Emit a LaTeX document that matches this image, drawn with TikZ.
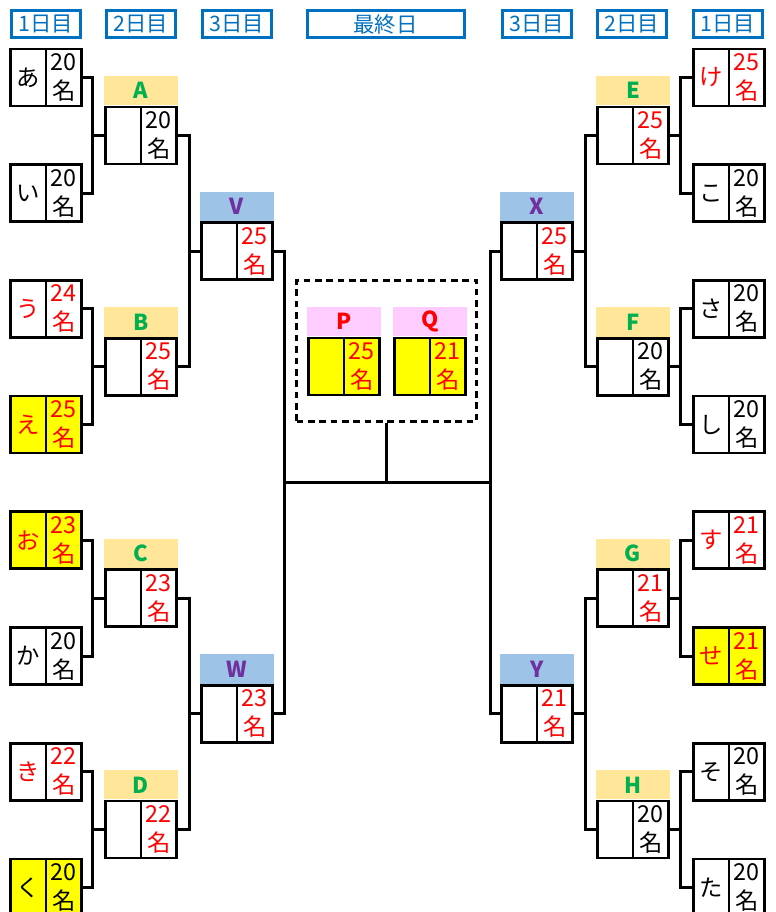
\documentclass[tikz,border=0pt]{standalone}
\usepackage{fontspec}
\setmainfont{Noto Sans CJK JP}
\usetikzlibrary{calc}

\definecolor{hdblue}{RGB}{0,112,192}
\definecolor{teamgold}{RGB}{255,230,153}
\definecolor{teamgreen}{RGB}{0,176,80}
\definecolor{semiblue}{RGB}{157,195,230}
\definecolor{semipurple}{RGB}{112,48,160}
\definecolor{finpink}{RGB}{255,204,255}
\definecolor{winred}{RGB}{255,0,0}
\definecolor{hiyellow}{RGB}{255,255,0}

\begin{document}
\begin{tikzpicture}[x=0.75pt,y=0.75pt,yscale=-1,xscale=1,
  cell/.style={draw, line width=2pt, minimum width=26.6pt, minimum height=42.75pt, inner sep=0pt, outer sep=0pt, fill=white, align=center, font=\fontsize{17.5}{21.75}\selectfont},
  win/.style={text=winred},
  hit/.style={fill=hiyellow},
  dayhd/.style={draw=hdblue, line width=2.25pt, text=hdblue, minimum width=51.75pt, minimum height=20.25pt, inner sep=0pt, font=\fontsize{16}{16}\selectfont},
  teamhd/.style={fill=teamgold, text=teamgreen, minimum width=55.5pt, minimum height=22pt, inner sep=0pt, anchor=south, font=\bfseries\fontsize{16.5}{17}\selectfont},
  semihd/.style={teamhd, fill=semiblue, text=semipurple},
  finhd/.style={teamhd, fill=finpink, text=winred},
  bracket/.style={line width=2.25pt},
  finbox/.style={draw, dash pattern=on 5pt off 3.5pt, line width=2pt, minimum width=135pt, minimum height=105.75pt}]
\useasboundingbox (0,0) rectangle (775,912);

% Day Headers
\node[dayhd] (hd-l1) at (45.7,24) {1日目};
\node[dayhd] (hd-l2) at (140.5,24) {2日目};
\node[dayhd] (hd-l3) at (236.5,24) {3日目};
\node[dayhd, minimum width=117.75pt] (hd-fin) at (385.5,24) {最終日};
\node[dayhd] (hd-r3) at (536.5,24) {3日目};
\node[dayhd] (hd-r2) at (632,24) {2日目};
\node[dayhd] (hd-r1) at (728,24) {1日目};

% Junction Points
\coordinate (jA) at (92,135.35);
\coordinate (jB) at (92,366.75);
\coordinate (jC) at (92,598.15);
\coordinate (jD) at (92,829.55);
\coordinate (jV) at (189,251.05);
\coordinate (jW) at (189,713.85);
\coordinate (jL) at (284,482);
\coordinate (jR) at (490,482);
\coordinate (jX) at (585,251.05);
\coordinate (jY) at (585,713.85);
\coordinate (jE) at (680,135.35);
\coordinate (jF) at (680,366.75);
\coordinate (jG) at (680,598.15);
\coordinate (jH) at (680,829.55);

% Final Box
\node[finbox] (fin) at (386.5,351) {};

%% Left Side
% 1st day
\node[cell] (d1-a) at (28.2,77.5) {あ};
\node[cell, anchor=west] (d1-a-n) at (d1-a.east) {20\\名};
\node[cell] (d1-i) at (28.2,193.2) {い};
\node[cell, anchor=west] (d1-i-n) at (d1-i.east) {20\\名};
\node[cell, win] (d1-u) at (28.2,308.9) {う};
\node[cell, win, anchor=west] (d1-u-n) at (d1-u.east) {24\\名};
\node[cell, win, hit] (d1-e) at (28.2,424.6) {え};
\node[cell, win, hit, anchor=west] (d1-e-n) at (d1-e.east) {25\\名};
\node[cell, win, hit] (d1-o) at (28.2,540.3) {お};
\node[cell, win, hit, anchor=west] (d1-o-n) at (d1-o.east) {23\\名};
\node[cell] (d1-ka) at (28.2,656) {か};
\node[cell, anchor=west] (d1-ka-n) at (d1-ka.east) {20\\名};
\node[cell, win] (d1-ki) at (28.2,771.7) {き};
\node[cell, win, anchor=west] (d1-ki-n) at (d1-ki.east) {22\\名};
\node[cell, hit] (d1-ku) at (28.2,887.4) {く};
\node[cell, hit, anchor=west] (d1-ku-n) at (d1-ku.east) {20\\名};

% 2nd day
\node[cell] (d2-A) at (123.2,135.35) {};
\node[cell, anchor=west] (d2-A-n) at (d2-A.east) {20\\名};
\node[teamhd] (d2-A-h) at ($(d2-A.north east)+(0,-1.3)$) {A};
\node[cell] (d2-B) at (123.2,366.75) {};
\node[cell, win, anchor=west] (d2-B-n) at (d2-B.east) {25\\名};
\node[teamhd] (d2-B-h) at ($(d2-B.north east)+(0,-1.3)$) {B};
\node[cell] (d2-C) at (123.2,598.15) {};
\node[cell, win, anchor=west] (d2-C-n) at (d2-C.east) {23\\名};
\node[teamhd] (d2-C-h) at ($(d2-C.north east)+(0,-1.3)$) {C};
\node[cell] (d2-D) at (123.2,829.55) {};
\node[cell, win, anchor=west] (d2-D-n) at (d2-D.east) {22\\名};
\node[teamhd] (d2-D-h) at ($(d2-D.north east)+(0,-1.3)$) {D};

% 3rd day
\node[cell] (d3-V) at (219.2,251.05) {};
\node[cell, win, anchor=west] (d3-V-n) at (d3-V.east) {25\\名};
\node[semihd] (d3-V-h) at ($(d3-V.north east)+(0,-1.3)$) {V};
\node[cell] (d3-W) at (219.2,713.85) {};
\node[cell, win, anchor=west] (d3-W-n) at (d3-W.east) {23\\名};
\node[semihd] (d3-W-h) at ($(d3-W.north east)+(0,-1.3)$) {W};

%% Final Day
\node[cell, hit] (fin-P) at (326.2,366.5) {};
\node[cell, win, hit, anchor=west] (fin-P-n) at (fin-P.east) {25\\名};
\node[finhd] (fin-P-h) at ($(fin-P.north east)+(0,-1.3)$) {P};
\node[cell, hit] (fin-Q) at (412.2,366.5) {};
\node[cell, win, hit, anchor=west] (fin-Q-n) at (fin-Q.east) {21\\名};
\node[finhd] (fin-Q-h) at ($(fin-Q.north east)+(0,-1.3)$) {Q};

%% Right Side
% 3rd day
\node[cell] (d3-X) at (519.2,251.05) {};
\node[cell, win, anchor=west] (d3-X-n) at (d3-X.east) {25\\名};
\node[semihd] (d3-X-h) at ($(d3-X.north east)+(0,-1.3)$) {X};
\node[cell] (d3-Y) at (519.2,713.85) {};
\node[cell, win, anchor=west] (d3-Y-n) at (d3-Y.east) {21\\名};
\node[semihd] (d3-Y-h) at ($(d3-Y.north east)+(0,-1.3)$) {Y};

% 2nd day
\node[cell] (d2-E) at (615.2,135.35) {};
\node[cell, win, anchor=west] (d2-E-n) at (d2-E.east) {25\\名};
\node[teamhd] (d2-E-h) at ($(d2-E.north east)+(0,-1.3)$) {E};
\node[cell] (d2-F) at (615.2,366.75) {};
\node[cell, anchor=west] (d2-F-n) at (d2-F.east) {20\\名};
\node[teamhd] (d2-F-h) at ($(d2-F.north east)+(0,-1.3)$) {F};
\node[cell] (d2-G) at (615.2,598.15) {};
\node[cell, win, anchor=west] (d2-G-n) at (d2-G.east) {21\\名};
\node[teamhd] (d2-G-h) at ($(d2-G.north east)+(0,-1.3)$) {G};
\node[cell] (d2-H) at (615.2,829.55) {};
\node[cell, anchor=west] (d2-H-n) at (d2-H.east) {20\\名};
\node[teamhd] (d2-H-h) at ($(d2-H.north east)+(0,-1.3)$) {H};

% 1st day
\node[cell, win] (d1-ke) at (711.2,77.5) {け};
\node[cell, win, anchor=west] (d1-ke-n) at (d1-ke.east) {25\\名};
\node[cell] (d1-ko) at (711.2,193.2) {こ};
\node[cell, anchor=west] (d1-ko-n) at (d1-ko.east) {20\\名};
\node[cell] (d1-sa) at (711.2,308.9) {さ};
\node[cell, anchor=west] (d1-sa-n) at (d1-sa.east) {20\\名};
\node[cell] (d1-shi) at (711.2,424.6) {し};
\node[cell, anchor=west] (d1-shi-n) at (d1-shi.east) {20\\名};
\node[cell, win] (d1-su) at (711.2,540.3) {す};
\node[cell, win, anchor=west] (d1-su-n) at (d1-su.east) {21\\名};
\node[cell, win, hit] (d1-se) at (711.2,656) {せ};
\node[cell, win, hit, anchor=west] (d1-se-n) at (d1-se.east) {21\\名};
\node[cell] (d1-so) at (711.2,771.7) {そ};
\node[cell, anchor=west] (d1-so-n) at (d1-so.east) {20\\名};
\node[cell] (d1-ta) at (711.2,887.4) {た};
\node[cell, anchor=west] (d1-ta-n) at (d1-ta.east) {20\\名};

%Bracket Lines, left
\draw[bracket] (d1-a-n.east) -| (jA) |- (d1-i-n.east);
\draw[bracket] (jA) -- (d2-A.west);
\draw[bracket] (d1-u-n.east) -| (jB) |- (d1-e-n.east);
\draw[bracket] (jB) -- (d2-B.west);
\draw[bracket] (d1-o-n.east) -| (jC) |- (d1-ka-n.east);
\draw[bracket] (jC) -- (d2-C.west);
\draw[bracket] (d1-ki-n.east) -| (jD) |- (d1-ku-n.east);
\draw[bracket] (jD) -- (d2-D.west);
\draw[bracket] (d2-A-n.east) -| (jV) |- (d2-B-n.east);
\draw[bracket] (jV) -- (d3-V.west);
\draw[bracket] (d2-C-n.east) -| (jW) |- (d2-D-n.east);
\draw[bracket] (jW) -- (d3-W.west);

%Bracket Lines, final
\draw[bracket] (d3-V-n.east) -| (jL) |- (d3-W-n.east);
\draw[bracket] (d3-X.west) -| (jR) |- (d3-Y.west);
\draw[bracket] (jL) -- (jR);
\draw[bracket] (fin.south) -- (fin.south |- jL);

%Bracket Lines, right
\draw[bracket] (d2-E.west) -| (jX) |- (d2-F.west);
\draw[bracket] (jX) -- (d3-X-n.east);
\draw[bracket] (d2-G.west) -| (jY) |- (d2-H.west);
\draw[bracket] (jY) -- (d3-Y-n.east);
\draw[bracket] (d1-ke.west) -| (jE) |- (d1-ko.west);
\draw[bracket] (jE) -- (d2-E-n.east);
\draw[bracket] (d1-sa.west) -| (jF) |- (d1-shi.west);
\draw[bracket] (jF) -- (d2-F-n.east);
\draw[bracket] (d1-su.west) -| (jG) |- (d1-se.west);
\draw[bracket] (jG) -- (d2-G-n.east);
\draw[bracket] (d1-so.west) -| (jH) |- (d1-ta.west);
\draw[bracket] (jH) -- (d2-H-n.east);

\end{tikzpicture}
\end{document}
